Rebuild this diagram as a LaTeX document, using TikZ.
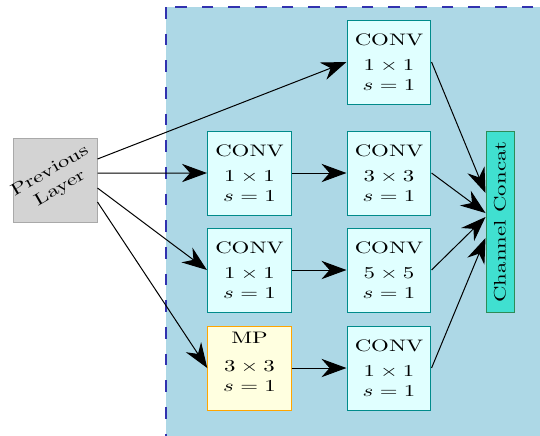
\documentclass[tikz,border=0pt]{standalone}
\usepackage{tikz}
\usetikzlibrary{arrows.meta}

\definecolor{bgblue}{HTML}{ADD8E6}
\definecolor{dashblue}{RGB}{50,50,175}
\definecolor{convfill}{HTML}{E0FFFF}
\definecolor{convline}{HTML}{008B8B}
\definecolor{mpfill}{HTML}{FFFFE0}
\definecolor{mpline}{HTML}{FFA500}
\definecolor{concatfill}{HTML}{40E0D0}
\definecolor{concatline}{HTML}{2E8B57}
\definecolor{prevfill}{HTML}{D3D3D3}
\definecolor{prevline}{HTML}{A9A9A9}

\begin{document}
\begin{tikzpicture}[x=0.6pt,y=-0.6pt,
    box/.style={draw,semithick,xscale=1.37,align=center,minimum width=36.4pt,minimum height=50.4pt},
    convbox/.style={box,draw=convline,fill=convfill},
    mpbox/.style={box,draw=mpline,fill=mpfill,text depth=7.2pt},
    arr/.style={semithick,-{Stealth[length=15pt,width=11pt]}}]
    \useasboundingbox (0,0) rectangle (540,435);
    \clip (0,0) rectangle (540,435);

    \draw[fill=bgblue,draw=dashblue,line width=1pt,dash pattern=on 7pt off 9pt] (166,7) rectangle (560,450);

    \node[draw=prevline,fill=prevfill,semithick,minimum size=50.4pt] (prev) at (55,180) {};
    \node[rotate=30,xscale=1.37,align=center] (prevtext) at (prev) {Previous\\Layer};

    \node[convbox] (conv1) at (389,62) {CONV\\[3pt]$1\times1$\\$s=1$};
    \node[convbox] (conv2a) at (249.5,173) {CONV\\[3pt]$1\times1$\\$s=1$};
    \node[convbox] (conv2b) at (389,173) {CONV\\[3pt]$3\times3$\\$s=1$};
    \node[convbox] (conv3a) at (249.5,270) {CONV\\[3pt]$1\times1$\\$s=1$};
    \node[convbox] (conv3b) at (389,270) {CONV\\[3pt]$5\times5$\\$s=1$};
    \node[mpbox] (pool) at (249.5,368) {MP\\[5pt]$3\times3$\\$s=1$};
    \node[convbox] (conv4) at (389,368) {CONV\\[3pt]$1\times1$\\$s=1$};

    \node[draw=concatline,fill=concatfill,semithick,rotate=90,xscale=1.37,minimum width=79.3pt,minimum height=16.8pt] (concat) at (500,222) {Channel Concat};

    \draw[arr] ([yshift=12.6pt]prev.east) -- (conv1.west);
    \draw[arr] ([yshift=4.2pt]prev.east) -- (conv2a.west);
    \draw[arr] ([yshift=-4.8pt]prev.east) -- (conv3a.west);
    \draw[arr] ([yshift=-13.2pt]prev.east) -- (pool.west);

    \draw[arr] (conv2a.east) -- (conv2b.west);
    \draw[arr] (conv3a.east) -- (conv3b.west);
    \draw[arr] (pool.east) -- (conv4.west);

    \foreach \n/\s in {conv1/17.4pt, conv2b/5.4pt, conv3b/3pt, conv4/-9.6pt}
        \draw[arr] (\n.east) -- ([yshift=\s]concat.north);
\end{tikzpicture}
\end{document}
